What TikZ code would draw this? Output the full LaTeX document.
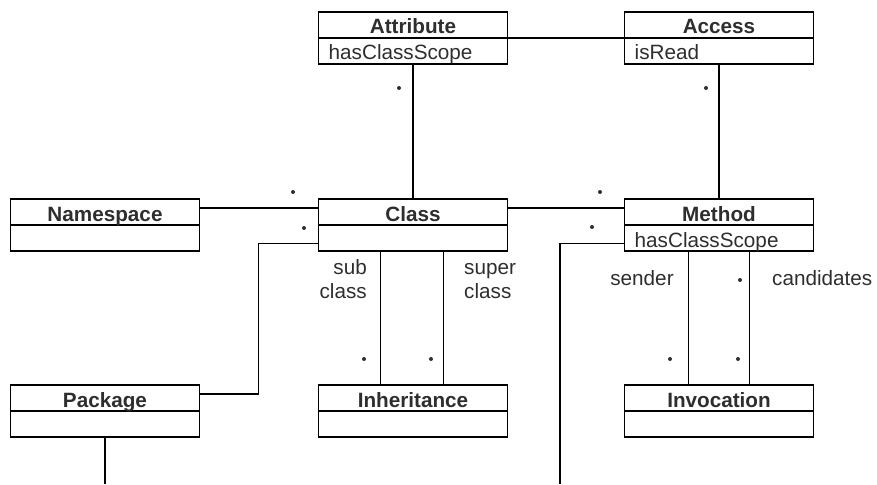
\documentclass[tikz,border=0pt]{standalone}
\usepackage{fontspec}
\setmainfont{Liberation Sans}
\usetikzlibrary{calc}
\definecolor{ink}{HTML}{2E2E2E}
\tikzset{
  classbox/.style={draw=black, line width=1.4pt, minimum width=189pt, minimum height=52pt, inner sep=0pt, outer sep=0pt},
  classname/.style={anchor=base, inner sep=0pt, text=ink, font=\fontsize{20.7}{24}\selectfont\bfseries},
  attrtext/.style={anchor=base west, inner sep=0pt, text=ink, font=\fontsize{20.7}{24}\selectfont},
  lbl/.style={inner sep=0pt, text=ink, font=\fontsize{20.7}{24}\selectfont},
  mult/.style={circle, fill=ink, inner sep=0pt, minimum size=4pt},
  link/.style={draw=black, line width=1.4pt}
}
\begin{document}
\begin{tikzpicture}[x=1pt,y=-1pt]
\useasboundingbox (0,0) rectangle (877,484);

% class boxes
\node[classbox] (attr) at (413,38) {};
\node[classbox] (acc)  at (719,38) {};
\node[classbox] (ns)   at (105,225) {};
\node[classbox] (cls)  at (413,225) {};
\node[classbox] (meth) at (719,225) {};
\node[classbox] (pkg)  at (105,411) {};
\node[classbox] (inh)  at (413,411) {};
\node[classbox] (inv)  at (719,411) {};

% compartment dividers
\foreach \b in {attr,acc,ns,cls,meth,pkg,inh,inv}
  \draw[link] (\b.west) -- (\b.east);

% class names
\node[classname] (attr-n) at ($(attr.center)+(0,-4)$) {Attribute};
\node[classname] (acc-n)  at ($(acc.center)+(0,-4)$)  {Access};
\node[classname] (ns-n)   at ($(ns.center)+(0,-4)$)   {Namespace};
\node[classname] (cls-n)  at ($(cls.center)+(0,-4)$)  {Class};
\node[classname] (meth-n) at ($(meth.center)+(0,-4)$) {Method};
\node[classname] (pkg-n)  at ($(pkg.center)+(0,-4)$)  {Package};
\node[classname] (inh-n)  at ($(inh.center)+(0,-4)$)  {Inheritance};
\node[classname] (inv-n)  at ($(inv.center)+(0,-4)$)  {Invocation};

% attributes
\node[attrtext] (attr-a) at ($(attr.south west)+(10,-4)$) {hasClassScope};
\node[attrtext] (acc-a)  at ($(acc.south west)+(10,-4)$)  {isRead};
\node[attrtext] (meth-a) at ($(meth.south west)+(10,-4)$) {hasClassScope};

% loose ends at the lower border
\coordinate (pkg-end)  at (105,484);
\coordinate (meth-end) at (560,484);

% associations
\draw[link] (attr.east) -- (acc.west);
\draw[link] (attr.south) -- (cls.north);
\draw[link] (acc.south) -- (meth.north);
\draw[link] ($(ns.north east)+(0,9)$) -- ($(cls.north west)+(0,9)$);
\draw[link] ($(cls.north east)+(0,9)$) -- ($(meth.north west)+(0,9)$);
\draw[link] ($(cls.south west)+(0,-7.5)$) -| ($(pkg.north east)+(59,9)$) -- ($(pkg.north east)+(0,9)$);
\draw[link] ($(meth.south west)+(0,-7.5)$) -| (meth-end);
\draw[link] (pkg.south) -- (pkg-end);
\draw[link] ($(cls.south west)+(62,0)$) -- ($(inh.north west)+(62,0)$);
\draw[link] ($(cls.south west)+(125,0)$) -- ($(inh.north west)+(125,0)$);
\draw[link] ($(meth.south west)+(64,0)$) -- ($(inv.north west)+(64,0)$);
\draw[link] ($(meth.south west)+(125,0)$) -- ($(inv.north west)+(125,0)$);

% multiplicities
\node[mult] (m-attr) at (399,88) {};
\node[mult] (m-acc)  at (706,88) {};
\node[mult] (m-ns1)  at (293,192) {};
\node[mult] (m-ns2)  at (304,228) {};
\node[mult] (m-me1)  at (600,192) {};
\node[mult] (m-me2)  at (592,227) {};
\node[mult] (m-in1)  at (364,359) {};
\node[mult] (m-in2)  at (431,359) {};
\node[mult] (m-iv1)  at (670,359) {};
\node[mult] (m-iv2)  at (738,359) {};
\node[mult] (m-cand) at (740,280) {};

% role names
\node[lbl, anchor=base east] (r-sub1) at (367,274) {sub};
\node[lbl, anchor=base east] (r-sub2) at (367,298) {class};
\node[lbl, anchor=base west] (r-sup1) at (464,274) {super};
\node[lbl, anchor=base west] (r-sup2) at (464,298) {class};
\node[lbl, anchor=base] (r-send) at (642,285) {sender};
\node[lbl, anchor=base west] (r-cand) at (772,285) {candidates};
\end{tikzpicture}
\end{document}
